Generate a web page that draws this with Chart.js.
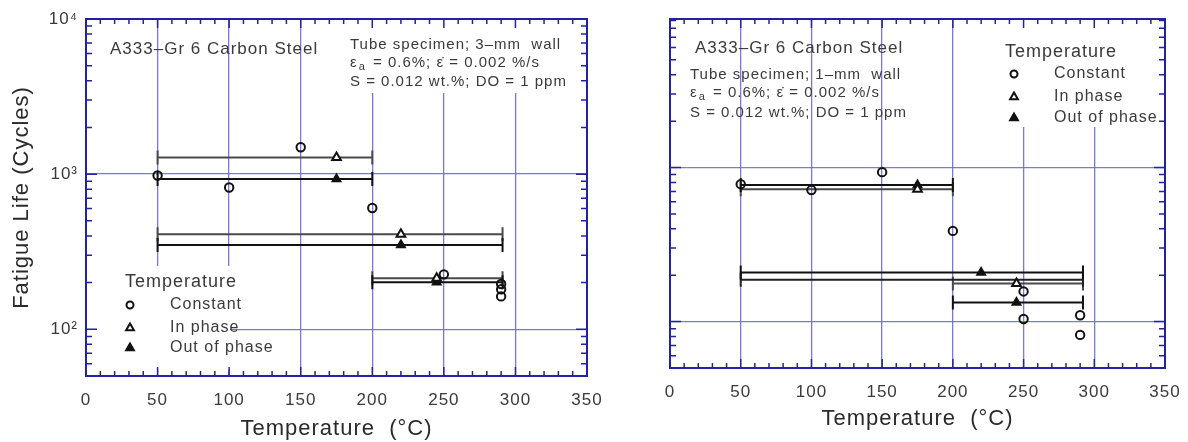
<!DOCTYPE html>
<html><head><meta charset="utf-8">
<script src="https://cdn.jsdelivr.net/npm/chart.js@4"></script>
<style>
html,body{margin:0;padding:0;background:#fff;}
#wrap{position:relative;width:1188px;height:442px;overflow:hidden;background:#fff;}
#c1{position:absolute;left:0;top:0;}
#c2{position:absolute;left:600px;top:0;}
</style></head><body>
<div id="wrap"><canvas id="c1" width="614" height="442"></canvas><canvas id="c2" width="588" height="442"></canvas></div>
<script>
// ---------- data ----------
const tempMin = 0, tempMax = 350, tempStep = 50;
const lifeMin = 50;
const leftLifeMax = 10000;
const rightLifeMax = 9200;

// Left panel: tube specimen, 3-mm wall
const leftConstantT = [50, 100, 150, 200, 250, 290, 290, 290];
const leftConstantN = [980, 820, 1490, 605, 226, 196, 181, 163];
const leftInPhaseT = [175, 220, 245];
const leftInPhaseN = [1280, 410, 213];
const leftInPhaseTmin = [50, 50, 200];
const leftInPhaseTmax = [200, 291, 291];
const leftOutPhaseT = [175, 220, 245];
const leftOutPhaseN = [930, 350, 201];
const leftOutPhaseTmin = [50, 50, 200];
const leftOutPhaseTmax = [200, 291, 291];
const leftExtraBarN = [];
const leftExtraBarTmin = [];
const leftExtraBarTmax = [];

// Right panel: tube specimen, 1-mm wall
const rightConstantT = [50, 100, 150, 200, 250, 250, 290, 290];
const rightConstantN = [780, 714, 933, 388, 157, 104, 110, 82];
const rightInPhaseT = [175, 245];
const rightInPhaseN = [724, 177];
const rightInPhaseTmin = [50, 200];
const rightInPhaseTmax = [200, 292];
const rightOutPhaseT = [175, 220, 245];
const rightOutPhaseN = [769, 208, 133];
const rightOutPhaseTmin = [50, 50, 200];
const rightOutPhaseTmax = [200, 292, 292];
const rightExtraBarN = [187];
const rightExtraBarTmin = [50];
const rightExtraBarTmax = [292];

const legendTitle = 'Temperature';
const legendLabels = ['Constant', 'In phase', 'Out of phase'];
const materialText = 'A333\u2013Gr 6 Carbon Steel';
const xTitle = 'Temperature  (\u00B0C)';
const yTitle = 'Fatigue Life (Cycles)';

// ---------- style ----------
const FONT = "'Liberation Sans', Arial, Helvetica, sans-serif";
const GRID = 'rgba(105,105,225,0.9)';
const FRAME = '#23239e';
const TEXT = '#3a3a3a';
const INK = '#111';
const SUP = {'0':'\u2070','1':'\u00B9','2':'\u00B2','3':'\u00B3','4':'\u2074','5':'\u2075'};

function isDecade(v){ const l = Math.log10(v); return Math.abs(l - Math.round(l)) < 1e-9; }

function decoPlugin(p){
  return {
    id: 'deco',
    beforeDraw(chart){ chart.ctx.letterSpacing = '1px'; },
    beforeDatasetsDraw(chart){
      const ctx = chart.ctx, xs = chart.scales.x, ys = chart.scales.y;
      ctx.save();
      ctx.fillStyle = '#fff';
      p.masks.forEach(m => ctx.fillRect(m[0], m[1], m[2], m[3]));
      // horizontal temperature-range bars
      const bars = (N, tmin, tmax, color) => {
        ctx.strokeStyle = color; ctx.lineWidth = 2;
        N.forEach((n, i) => {
          const y = ys.getPixelForValue(n);
          const x0 = xs.getPixelForValue(tmin[i]), x1 = xs.getPixelForValue(tmax[i]);
          ctx.beginPath();
          ctx.moveTo(x0, y); ctx.lineTo(x1, y);
          ctx.moveTo(x0, y - 7); ctx.lineTo(x0, y + 7);
          ctx.moveTo(x1, y - 7); ctx.lineTo(x1, y + 7);
          ctx.stroke();
        });
      };
      bars(p.inN, p.inMin, p.inMax, '#4a4a4a');
      bars(p.exN, p.exMin, p.exMax, '#222');
      bars(p.outN, p.outMin, p.outMax, '#111');
      ctx.restore();
    },
    afterDatasetsDraw(chart){
      const ctx = chart.ctx, xs = chart.scales.x, ys = chart.scales.y, a = chart.chartArea;
      ctx.save();
      // frame
      ctx.strokeStyle = FRAME; ctx.lineWidth = 2;
      ctx.strokeRect(a.left, a.top, a.right - a.left, a.bottom - a.top);
      // inward ticks on all sides
      ctx.lineWidth = 1.5;
      ctx.beginPath();
      for (let v = tempMin; v <= tempMax; v += 10) {
        const x = xs.getPixelForValue(v), L = (v % 50 === 0) ? 9 : 5;
        ctx.moveTo(x, a.bottom); ctx.lineTo(x, a.bottom - L);
        ctx.moveTo(x, a.top); ctx.lineTo(x, a.top + L);
      }
      for (let d = 10; d <= 10000; d *= 10) {
        for (let k = 1; k <= 9; k++) {
          const v = k * d;
          if (v < ys.min - 1e-9 || v > ys.max + 1e-9) continue;
          const y = ys.getPixelForValue(v), L = (k === 1) ? 11 : 6;
          ctx.moveTo(a.left, y); ctx.lineTo(a.left + L, y);
          ctx.moveTo(a.right, y); ctx.lineTo(a.right - L, y);
        }
      }
      ctx.stroke();
      // annotation texts
      ctx.fillStyle = TEXT; ctx.textBaseline = 'middle'; ctx.textAlign = 'left';
      ctx.font = '17px ' + FONT;
      ctx.fillText(materialText, p.mat[0], p.mat[1]);
      ctx.font = '15px ' + FONT;
      let [tx, ty] = p.info;
      ctx.fillText(p.specimen, tx, ty);
      // strain line with subscript
      let cx = tx, y2 = ty + p.infoGap;
      ctx.fillText('\u03B5', cx, y2); cx += ctx.measureText('\u03B5').width + 1;
      ctx.font = '11px ' + FONT;
      ctx.fillText('a', cx, y2 + 4); cx += ctx.measureText('a').width + 2;
      ctx.font = '15px ' + FONT;
      ctx.fillText(' = 0.6%; \u03B5\u0307 = 0.002 %/s', cx, y2);
      ctx.fillText('S = 0.012 wt.%; DO = 1 ppm', tx, ty + 2 * p.infoGap + p.infoExtra);
      // legend
      ctx.font = '18px ' + FONT;
      ctx.fillText(legendTitle, p.leg[0], p.leg[1]);
      const styles = [
        {pointStyle:'circle', radius:3.5, fill:'#fff'},
        {pointStyle:'triangle', radius:4.5, fill:'#fff'},
        {pointStyle:'triangle', radius:4.5, fill:INK}
      ];
      ctx.font = '16px ' + FONT;
      legendLabels.forEach((lab, i) => {
        const yy = p.leg[1] + p.legRows[i];
        ctx.save();
        ctx.strokeStyle = INK; ctx.fillStyle = styles[i].fill; ctx.lineWidth = 2;
        Chart.helpers.drawPoint(ctx, {pointStyle: styles[i].pointStyle, radius: styles[i].radius, rotation: 0, borderWidth: 2}, p.leg[0] + p.symDx, yy);
        ctx.restore();
        ctx.fillStyle = TEXT;
        ctx.fillText(lab, p.leg[0] + p.labDx, yy);
      });
      ctx.restore();
    }
  };
}

function makeChart(canvas, p){
  const pts = (T, N) => T.map((t, i) => ({x: t, y: N[i]}));
  return new Chart(canvas, {
    type: 'scatter',
    data: { datasets: [
      {label: legendLabels[0], data: pts(p.cT, p.cN), pointStyle: 'circle', pointRadius: 4.2, borderWidth: 2, borderColor: INK, backgroundColor: 'rgba(255,255,255,0)'},
      {label: legendLabels[1], data: pts(p.inT, p.inN), pointStyle: 'triangle', pointRadius: 5, borderWidth: 2, borderColor: INK, backgroundColor: '#fff'},
      {label: legendLabels[2], data: pts(p.outT, p.outN), pointStyle: 'triangle', pointRadius: 5, borderWidth: 1.5, borderColor: INK, backgroundColor: INK}
    ]},
    options: {
      responsive: false, animation: false, events: [],
      layout: {padding: {left: 0, right: p.padR, top: 19, bottom: 0}},
      plugins: {legend: {display: false}, tooltip: {enabled: false}},
      scales: {
        x: {
          type: 'linear', min: tempMin, max: tempMax,
          ticks: {stepSize: tempStep, padding: 14, color: TEXT, font: {family: FONT, size: 17}, maxRotation: 0, autoSkip: false},
          grid: {color: c => (c.tick && (c.tick.value === tempMin || c.tick.value === tempMax)) ? 'rgba(0,0,0,0)' : GRID, lineWidth: 1.3, drawTicks: false},
          border: {display: false},
          title: {display: true, text: xTitle, color: '#2a2a2a', font: {family: FONT, size: 22}, padding: {top: 0, bottom: p.xTitlePad}},
          afterFit: s => { s.height = p.xH; s.paddingLeft = 0; s.paddingRight = 0; }
        },
        y: {
          type: 'logarithmic', min: lifeMin, max: p.yMax,
          ticks: {display: p.yLabels, autoSkip: false, padding: 8, color: TEXT, font: {family: FONT, size: 17},
            callback: v => isDecade(v) ? '10' + SUP[String(Math.round(Math.log10(v)))] : ''},
          grid: {color: c => (c.tick && isDecade(c.tick.value) && c.tick.value < p.yMax) ? GRID : 'rgba(0,0,0,0)', lineWidth: 1.3, drawTicks: false},
          border: {display: false},
          title: {display: p.yLabels, text: yTitle, color: '#2a2a2a', font: {family: FONT, size: 22}, padding: {top: 9, bottom: 0}},
          afterFit: s => { s.width = p.yW; s.paddingTop = 0; s.paddingBottom = 0; }
        }
      }
    },
    plugins: [decoPlugin(p)]
  });
}

makeChart(document.getElementById('c1'), {
  cT: leftConstantT, cN: leftConstantN,
  inT: leftInPhaseT, inN: leftInPhaseN, inMin: leftInPhaseTmin, inMax: leftInPhaseTmax,
  outT: leftOutPhaseT, outN: leftOutPhaseN, outMin: leftOutPhaseTmin, outMax: leftOutPhaseTmax,
  exN: leftExtraBarN, exMin: leftExtraBarTmin, exMax: leftExtraBarTmax,
  yMax: leftLifeMax, yLabels: true, yW: 86, xH: 66, padR: 27, xTitlePad: 0,
  specimen: 'Tube specimen; 3\u2013mm  wall',
  mat: [110, 49], info: [350, 45], infoGap: 18, infoExtra: 1,
  leg: [125, 282], legRows: [23, 46, 66], symDx: 5, labDx: 45,
  masks: [[344, 20, 240, 73], [87, 266, 143, 104]]
});

makeChart(document.getElementById('c2'), {
  cT: rightConstantT, cN: rightConstantN,
  inT: rightInPhaseT, inN: rightInPhaseN, inMin: rightInPhaseTmin, inMax: rightInPhaseTmax,
  outT: rightOutPhaseT, outN: rightOutPhaseN, outMin: rightOutPhaseTmin, outMax: rightOutPhaseTmax,
  exN: rightExtraBarN, exMin: rightExtraBarTmin, exMax: rightExtraBarTmax,
  yMax: rightLifeMax, yLabels: false, yW: 70, xH: 74, padR: 23, xTitlePad: 10,
  specimen: 'Tube specimen; 1\u2013mm  wall',
  mat: [95, 48], info: [90, 75], infoGap: 18, infoExtra: 2,
  leg: [405, 52], legRows: [22, 45, 66], symDx: 9, labDx: 49,
  masks: [[398, 20, 166, 107]]
});
</script>
</body></html>
